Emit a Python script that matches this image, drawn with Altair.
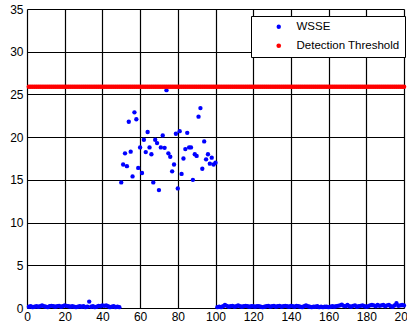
import altair as alt
import pandas as pd

# cluster values for x = 50..100
cluster_y = [14.7, 16.8, 18.1, 16.6, 21.8, 18.3, 15.4, 22.9, 22.1, 16.4,
             18.8, 15.8, 19.7, 18.25, 20.6, 18.8, 18.0, 14.7, 19.7, 19.3,
             13.8, 18.8, 20.2, 18.75, 25.5, 18.1, 17.7, 16.0, 16.8, 20.4,
             14.0, 20.7, 15.7, 17.5, 18.6, 20.5, 18.8, 18.8, 15.0, 18.0,
             17.8, 22.4, 23.4, 16.3, 19.5, 17.4, 18.0, 16.9, 17.6, 16.8,
             17.0]
# low values for x = 1..49
low_a = [0.15, 0.2, 0.1, 0.15, 0.2, 0.15, 0.2, 0.3, 0.2, 0.15,
         0.1, 0.2, 0.25, 0.2, 0.15, 0.2, 0.25, 0.15, 0.2, 0.3,
         0.25, 0.2, 0.15, 0.2, 0.15, 0.1, 0.15, 0.2, 0.15, 0.2,
         0.1, 0.15, 0.75, 0.15, 0.2, 0.1, 0.15, 0.25, 0.2, 0.3,
         0.25, 0.3, 0.2, 0.1, 0.15, 0.2, 0.1, 0.15, 0.1]
# low values for x = 101..200
low_b = [0.1, 0.15, 0.1, 0.2, 0.35, 0.25, 0.15, 0.2, 0.25, 0.15,
         0.2, 0.3, 0.2, 0.15, 0.2, 0.25, 0.2, 0.15, 0.2, 0.2,
         0.15, 0.2, 0.2, 0.15, 0.1, 0.15, 0.2, 0.25, 0.15, 0.2,
         0.25, 0.15, 0.2, 0.25, 0.15, 0.2, 0.25, 0.2, 0.15, 0.25,
         0.2, 0.15, 0.25, 0.2, 0.15, 0.1, 0.2, 0.3, 0.2, 0.15,
         0.1, 0.15, 0.15, 0.2, 0.1, 0.15, 0.1, 0.15, 0.15, 0.1,
         0.15, 0.2, 0.15, 0.2, 0.25, 0.3, 0.4, 0.25, 0.2, 0.35,
         0.2, 0.15, 0.25, 0.3, 0.15, 0.2, 0.25, 0.3, 0.2, 0.15,
         0.2, 0.3, 0.35, 0.3, 0.2, 0.35, 0.25, 0.3, 0.35, 0.2,
         0.3, 0.35, 0.2, 0.15, 0.3, 0.55, 0.25, 0.3, 0.35, 0.3]
threshold = 25.9
x_ticks = list(range(0, 201, 20))
y_ticks = list(range(0, 36, 5))

wsse = low_a + cluster_y + low_b
xs = list(range(1, len(wsse) + 1))
df = pd.DataFrame({
    "x": xs + xs,
    "y": wsse + [threshold] * len(xs),
    "series": ["WSSE"] * len(xs) + ["Detection Threshold"] * len(xs),
    "order": [0] * len(xs) + [1] * len(xs),
})

font = "Liberation Sans"
chart = alt.Chart(df).mark_circle(opacity=1).encode(
    x=alt.X("x:Q", scale=alt.Scale(domain=[0, 200], nice=False, zero=False),
            axis=alt.Axis(values=x_ticks, title=None, grid=True, gridColor="black",
                          gridOpacity=1, gridWidth=1.2, ticks=False, domain=False,
                          labelFont=font, labelFontSize=12, labelColor="black",
                          labelPadding=3, labelFlush=False)),
    y=alt.Y("y:Q", scale=alt.Scale(domain=[0, 35], nice=False),
            axis=alt.Axis(values=y_ticks, title=None, grid=True, gridColor="black",
                          gridOpacity=1, gridWidth=1.2, ticks=False, domain=False,
                          labelFont=font, labelFontSize=12, labelColor="black",
                          labelPadding=4)),
    color=alt.Color("series:N",
                    scale=alt.Scale(domain=["WSSE", "Detection Threshold"],
                                    range=["#0000ff", "#ff0000"]),
                    legend=alt.Legend(title=None, orient="none", legendX=224, legendY=7,
                                      strokeColor="black", fillColor="white",
                                      padding=5, symbolType="circle", symbolSize=16,
                                      symbolOffset=17, labelOffset=12,
                                      labelFont=font, labelFontSize=11.5,
                                      labelColor="black", rowPadding=6)),
    size=alt.Size("series:N", scale=alt.Scale(domain=["WSSE", "Detection Threshold"],
                                              range=[19, 22]), legend=None),
    order="order:Q",
).properties(
    width=377, height=299,
    autosize=alt.AutoSizeParams(type="none"),
    padding={"left": 27, "top": 9, "right": 3, "bottom": 19},
).configure_view(stroke="black", strokeWidth=1.5).configure(background="white")

chart.save("out.html", embed_options={"renderer": "svg", "actions": False})
